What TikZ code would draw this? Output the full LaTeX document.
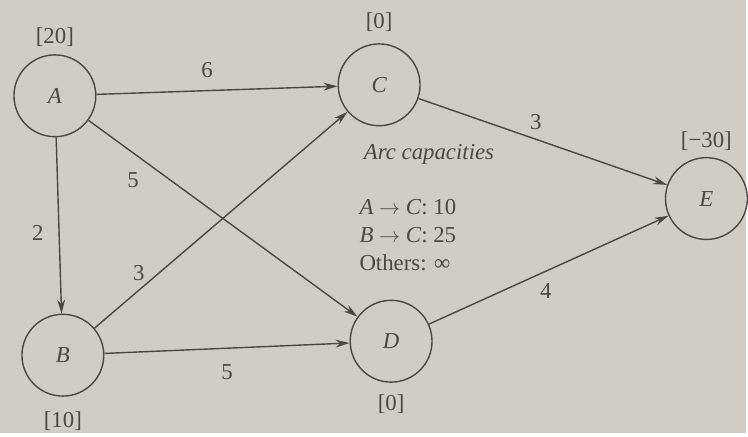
\documentclass[tikz,border=0pt]{standalone}
\usepackage{fontspec}
\setmainfont{Liberation Serif}
\usepackage{tikz}
\usetikzlibrary{positioning, arrows.meta}

\definecolor{paper}{RGB}{208,206,196}
\definecolor{ink}{RGB}{72,72,68}

\begin{document}
\begin{tikzpicture}[
    x=0.02cm, y=-0.02cm,
    font=\fontsize{13}{15}\selectfont,
    every node/.style={text=ink},
    vertex/.style={circle, draw=ink, thick, minimum size=1.64cm, inner sep=0pt, font=\fontsize{13}{15}\selectfont\itshape},
    flow/.style={draw=ink, thick, ->},
    costlbl/.style={inner sep=0pt, anchor=center},
    every label/.style={text=ink},
    label distance=3pt,
    >={Stealth[length=8pt,width=4.5pt]}
]

% Page background
\fill[paper] (0,0) rectangle (748,434);

% Draw the network
\node[vertex, label={[label distance=1pt]above:{[20]}}] (A) at (55,96) {A};
\node[vertex, label={[label distance=5pt]below:{[10]}}] (B) at (63,356) {B};
\node[vertex, label=above:{[0]}] (C) at (380,85) {C};
\node[vertex, label=below:{[0]}] (D) at (392,342) {D};
\node[vertex, label={[label distance=0pt]above:{[−30]}}] (E) at (708,199) {E};

% Arcs with costs
\draw[flow] (A) -- node[costlbl, pos=0.5, shift={(-10,-20)}] {6} (C);
\draw[flow] (A) -- node[costlbl, pos=0.27, shift={(-28,7)}] {5} (D);
\draw[flow] (A) -- node[costlbl, pos=0.5, shift={(-21,7)}] {2} (B);
\draw[flow] (B) -- node[costlbl, pos=0.27, shift={(-24,3)}] {3} (C);
\draw[flow] (B) -- node[costlbl, pos=0.5, shift={(0,24)}] {5} (D);
\draw[flow] (C) -- node[costlbl, pos=0.5, shift={(-7,-20)}] {3} (E);
\draw[flow] (D) -- node[costlbl, pos=0.5, shift={(-3,21)}] {4} (E);

% Capacity note
\node[font=\fontsize{13}{15}\selectfont\itshape] (note) at (430,155) {Arc capacities};
\node[anchor=north west, align=left, inner sep=0pt] (caps) at (360,199)
    {\textit{A} $\rightarrow$ \textit{C}: 10\\[1pt] \textit{B} $\rightarrow$ \textit{C}: 25\\[1pt] Others: ∞};

\end{tikzpicture}
\end{document}
